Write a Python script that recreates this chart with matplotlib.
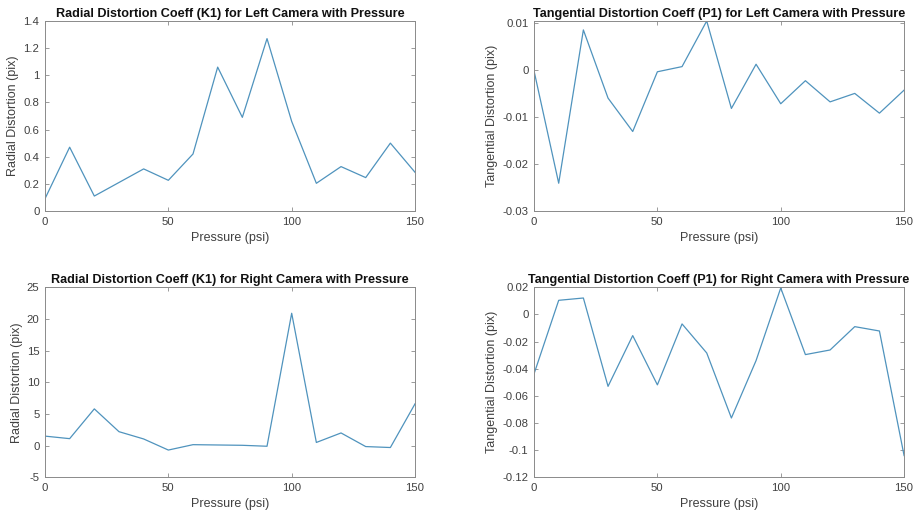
import matplotlib
matplotlib.use("Agg")
from matplotlib import pyplot as plt

plt.rcParams['font.family'] = ['Liberation Sans', 'DejaVu Sans']

pressure = [0, 10, 20, 30, 40, 50, 60, 70, 80, 90, 100, 110, 120, 130, 140, 150]

k1_left = [0.09, 0.47, 0.11, 0.21, 0.31, 0.226, 0.42, 1.06, 0.69, 1.27,
           0.66, 0.204, 0.327, 0.246, 0.50, 0.285]
p1_left = [-0.0002, -0.0241, 0.0085, -0.006, -0.0131, -0.0004, 0.0007, 0.0104,
           -0.0082, 0.0012, -0.0072, -0.0023, -0.0068, -0.005, -0.0092, -0.0043]
k1_right = [1.5, 1.1, 5.8, 2.2, 1.05, -0.7, 0.15, 0.1, 0.05, -0.1,
            20.9, 0.5, 2.0, -0.15, -0.3, 6.6]
p1_right = [-0.0438, 0.0104, 0.0121, -0.053, -0.0156, -0.0519, -0.007, -0.0284,
            -0.0763, -0.034, 0.0195, -0.0296, -0.0262, -0.009, -0.0122, -0.104]

line_color = '#4f93bd'
text_color = '#404040'
box_color = '#8a8a8a'

fig = plt.figure(figsize=(9.16, 5.18), dpi=100)

panels = [
    ([0.0491, 0.5927, 0.404, 0.3668], k1_left,
     "Radial Distortion Coeff (K1) for Left Camera with Pressure",
     "Radial Distortion (pix)", (0, 1.4), [0, 0.2, 0.4, 0.6, 0.8, 1, 1.2, 1.4],
     ['0', '0.2', '0.4', '0.6', '0.8', '1', '1.2', '1.4']),
    ([0.583, 0.5927, 0.404, 0.3668], p1_left,
     "Tangential Distortion Coeff (P1) for Left Camera with Pressure",
     "Tangential Distortion (pix)", (-0.03, 0.0104), [-0.03, -0.02, -0.01, 0, 0.01],
     ['-0.03', '-0.02', '-0.01', '0', '0.01']),
    ([0.0491, 0.0786, 0.404, 0.3668], k1_right,
     "Radial Distortion Coeff (K1) for Right Camera with Pressure",
     "Radial Distortion (pix)", (-5, 25), [-5, 0, 5, 10, 15, 20, 25],
     ['-5', '0', '5', '10', '15', '20', '25']),
    ([0.583, 0.0786, 0.404, 0.3668], p1_right,
     "Tangential Distortion Coeff (P1) for Right Camera with Pressure",
     "Tangential Distortion (pix)", (-0.12, 0.02),
     [-0.12, -0.1, -0.08, -0.06, -0.04, -0.02, 0, 0.02],
     ['-0.12', '-0.1', '-0.08', '-0.06', '-0.04', '-0.02', '0', '0.02']),
]

for rect, vals, title, ylab, ylim, yticks, yticklabels in panels:
    ax = fig.add_axes(rect)
    ax.plot(pressure, vals, color=line_color, linewidth=0.9)
    ax.set_xlim(0, 150)
    ax.set_ylim(*ylim)
    ax.set_xticks([0, 50, 100, 150])
    ax.set_yticks(yticks)
    ax.set_yticklabels(yticklabels)
    ax.set_title(title, fontsize=9.1, fontweight='bold', color='#111111', pad=3)
    ax.set_xlabel("Pressure (psi)", fontsize=9, color=text_color, labelpad=4)
    ax.set_ylabel(ylab, fontsize=9, color=text_color, labelpad=3)
    ax.tick_params(direction='in', length=3, width=0.6, colors=box_color,
                   labelcolor=text_color, labelsize=8.2, top=True, right=True, pad=4)
    for s in ax.spines.values():
        s.set_color(box_color)
        s.set_linewidth(0.7)

fig.savefig("out.png", dpi=100)
